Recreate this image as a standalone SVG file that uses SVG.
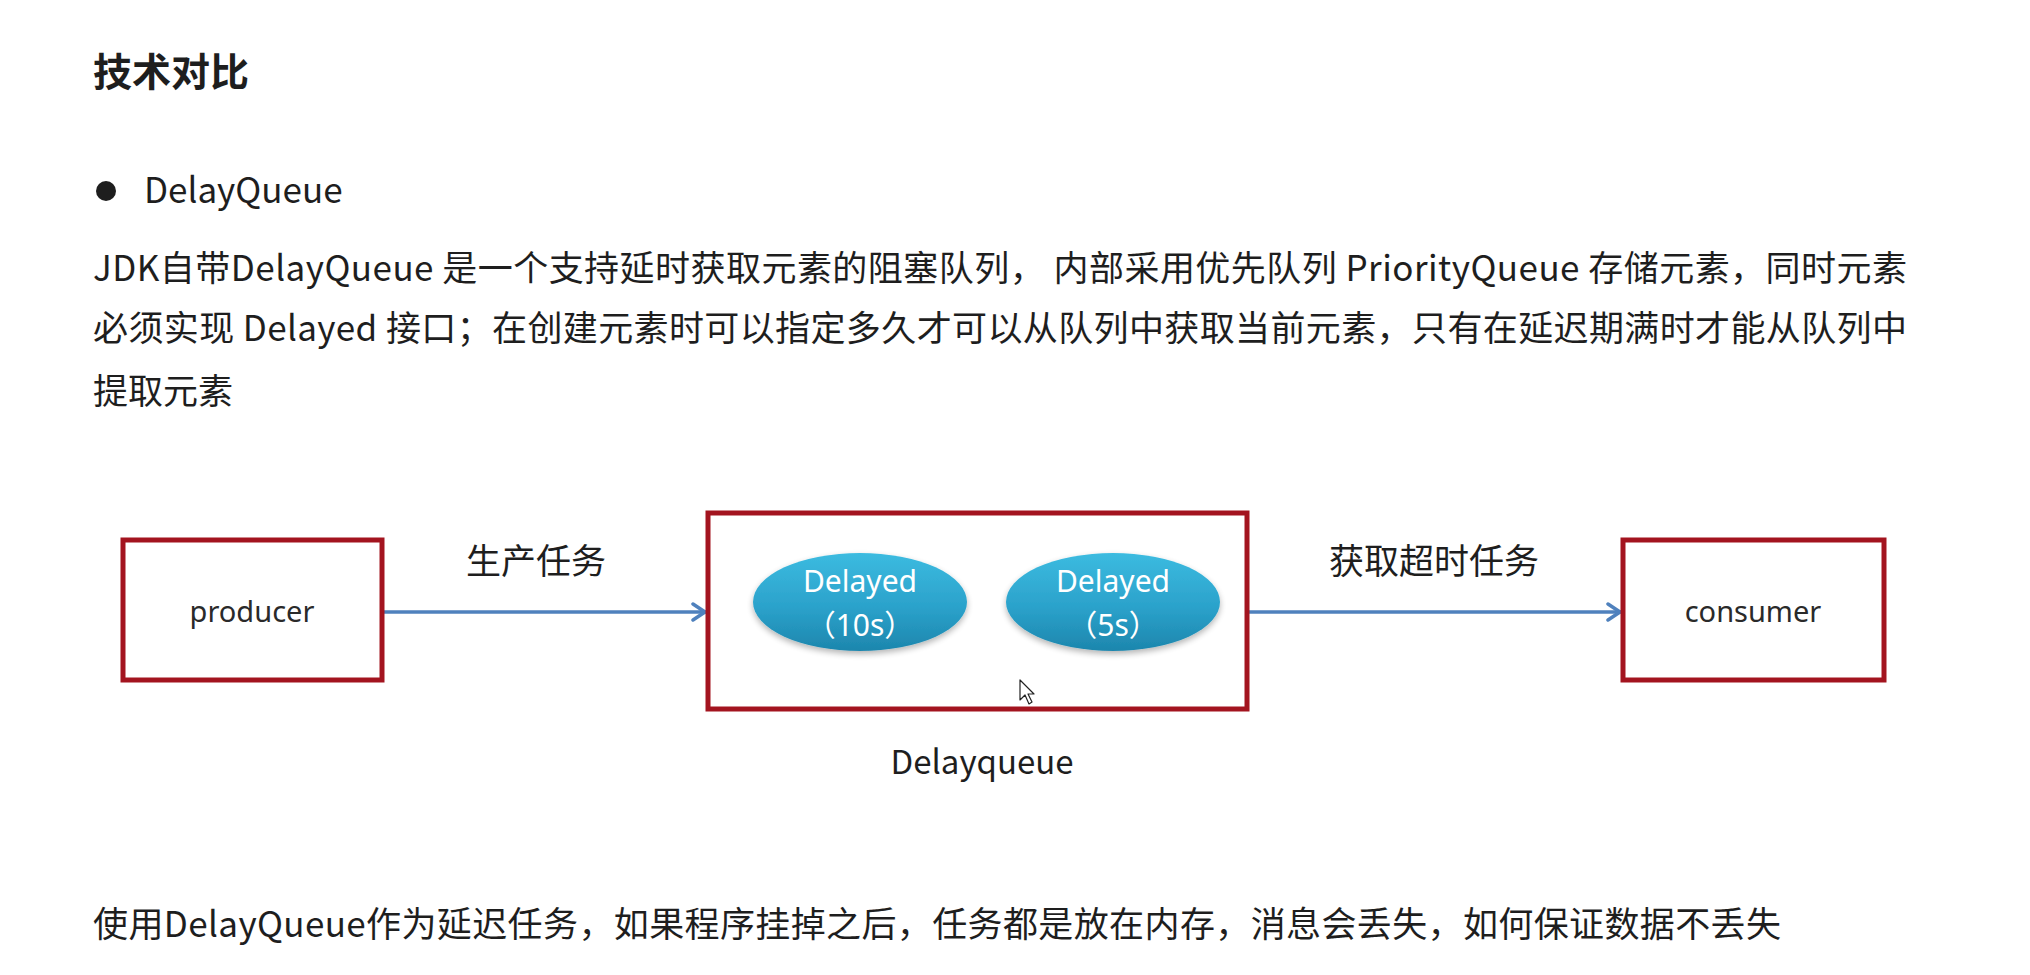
<svg xmlns="http://www.w3.org/2000/svg" width="2030" height="975" viewBox="0 0 2030 975">
  <style>
    .cjk { font-family: "Noto Sans CJK SC", "Noto Sans", sans-serif; fill: #1e1e1e; }
    .title { font-size: 39px; font-weight: 700; }
    .body { font-size: 35px; }
    .box { fill: #ffffff; stroke: #a3141f; stroke-width: 5; }
    .lbl { font-family: "Noto Sans", "Noto Sans CJK SC", sans-serif; font-size: 29px; fill: #2a2a2a; text-anchor: middle; }
    .elabel { font-family: "Noto Sans", "Noto Sans CJK SC", sans-serif; font-size: 30px; fill: #ffffff; text-anchor: middle; }
    .edge { stroke: #4f81bd; stroke-width: 3.5; fill: none; }
  </style>
  <defs>
    <marker id="arrow" viewBox="0 0 16 20" refX="15" refY="10" markerWidth="16" markerHeight="20" markerUnits="userSpaceOnUse" orient="auto">
      <path d="M2,2 L14,10 L2,18" fill="none" stroke="#4f81bd" stroke-width="3.5" stroke-linejoin="round" stroke-linecap="round"/>
    </marker>
    <linearGradient id="bubble" x1="0" y1="0" x2="0" y2="1">
      <stop offset="0" stop-color="#3cbbe0"/>
      <stop offset="0.55" stop-color="#2ba2cb"/>
      <stop offset="1" stop-color="#1d86ad"/>
    </linearGradient>
    <filter id="soft" x="-20%" y="-20%" width="140%" height="150%">
      <feGaussianBlur in="SourceAlpha" stdDeviation="3"/>
      <feOffset dy="3"/>
      <feComponentTransfer><feFuncA type="linear" slope="0.3"/></feComponentTransfer>
      <feMerge><feMergeNode/><feMergeNode in="SourceGraphic"/></feMerge>
    </filter>
  </defs>

  <rect width="2030" height="975" fill="#ffffff"/>

  <!-- heading and description -->
  <text class="cjk title" x="93" y="86">技术对比</text>
  <circle cx="106" cy="191" r="10" fill="#1e1e1e"/>
  <text class="cjk body" x="144" y="203">DelayQueue</text>
  <text class="cjk body" x="93" y="281" textLength="1814" lengthAdjust="spacing">JDK自带DelayQueue 是一个支持延时获取元素的阻塞队列， 内部采用优先队列 PriorityQueue 存储元素，同时元素</text>
  <text class="cjk body" x="93" y="341" textLength="1814" lengthAdjust="spacing">必须实现 Delayed 接口；在创建元素时可以指定多久才可以从队列中获取当前元素，只有在延迟期满时才能从队列中</text>
  <text class="cjk body" x="93" y="404">提取元素</text>

  <!-- connectors -->
  <g id="connectors">
    <line class="edge" x1="384" y1="612" x2="706" y2="612" marker-end="url(#arrow)"/>
    <text class="cjk body" x="536" y="574" text-anchor="middle">生产任务</text>
    <line class="edge" x1="1249" y1="612" x2="1621" y2="612" marker-end="url(#arrow)"/>
    <text class="cjk body" x="1434" y="574" text-anchor="middle">获取超时任务</text>
  </g>

  <!-- producer -->
  <g id="producer">
    <rect class="box" x="123" y="540" width="259" height="140"/>
    <text class="lbl" x="252" y="622">producer</text>
  </g>

  <!-- delay queue container with queued elements -->
  <g id="delayqueue">
    <rect class="box" x="708" y="513" width="539" height="196"/>
    <text class="cjk" x="982" y="774" font-size="33" text-anchor="middle" font-family="Noto Sans, Noto Sans CJK SC, sans-serif">Delayqueue</text>
  </g>

  <g id="delayed-10s">
    <ellipse cx="860" cy="602" rx="107" ry="49" fill="url(#bubble)" filter="url(#soft)"/>
    <text class="elabel" x="860" y="592">Delayed</text>
    <text class="elabel" x="860" y="636"><tspan font-family="Noto Sans CJK SC, sans-serif">（</tspan>10s<tspan font-family="Noto Sans CJK SC, sans-serif">）</tspan></text>
  </g>

  <g id="delayed-5s">
    <ellipse cx="1113" cy="602" rx="107" ry="49" fill="url(#bubble)" filter="url(#soft)"/>
    <text class="elabel" x="1113" y="592">Delayed</text>
    <text class="elabel" x="1113" y="636"><tspan font-family="Noto Sans CJK SC, sans-serif">（</tspan>5s<tspan font-family="Noto Sans CJK SC, sans-serif">）</tspan></text>
  </g>

  <!-- consumer -->
  <g id="consumer">
    <rect class="box" x="1623" y="540" width="261" height="140"/>
    <text class="lbl" x="1753" y="622">consumer</text>
  </g>

  <!-- pointer -->
  <path d="M1020,680 L1020,700 L1025,695 L1029,704 L1032,702 L1028,694 L1034,694 Z" fill="#ffffff" stroke="#222222" stroke-width="1.2" stroke-linejoin="round"/>

  <!-- closing remark -->
  <text class="cjk body" x="93" y="937" textLength="1688" lengthAdjust="spacing">使用DelayQueue作为延迟任务，如果程序挂掉之后，任务都是放在内存，消息会丢失，如何保证数据不丢失</text>
</svg>
